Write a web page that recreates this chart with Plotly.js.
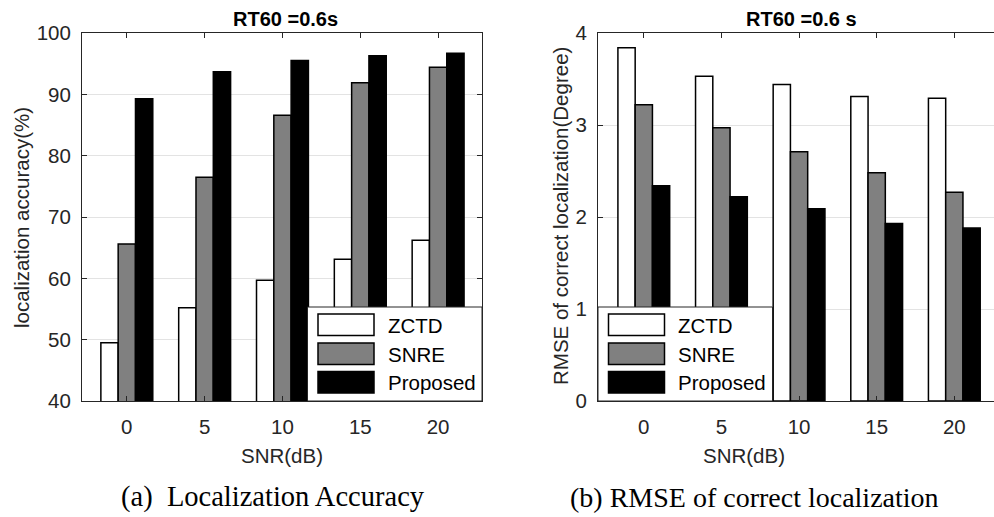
<!DOCTYPE html>
<html>
<head>
<meta charset="utf-8">
<script src="https://cdn.plot.ly/plotly-3.0.1.min.js"></script>
<style>
  html, body { margin: 0; padding: 0; overflow: hidden; background: #ffffff; }
  #chart { width: 1004px; height: 517px; }
</style>
</head>
<body>
<div id="chart"></div>
<script>
// SNR levels (dB) on the horizontal axis
const snr = [0, 5, 10, 15, 20];
const snrTicks = ['0', '5', '10', '15', '20'];

// Methods compared
const seriesNames = ['ZCTD', 'SNRE', 'Proposed'];
const seriesColors = ['#ffffff', '#808080', '#000000'];

// (a) Localization accuracy (%)
const accZCTD = [49.5, 55.2, 59.7, 63.1, 66.2];
const accSNRE = [65.6, 76.5, 86.6, 91.9, 94.4];
const accProposed = [89.3, 93.7, 95.5, 96.3, 96.7];

// (b) RMSE of correct localization (degree)
const rmseZCTD = [3.84, 3.53, 3.44, 3.31, 3.29];
const rmseSNRE = [3.22, 2.97, 2.71, 2.48, 2.27];
const rmseProposed = [2.34, 2.22, 2.09, 1.93, 1.88];

// Figure geometry (pixels)
const W = 1004, H = 517;
const M = { l: 0, r: 0, t: 33, b: 116 };
const plotH = H - M.t - M.b;
const px = v => (v - M.l) / (W - M.l - M.r);      // pixel x -> paper x
const py = v => (H - M.b - v) / plotH;            // pixel y -> paper y

const leftBox = { x0: 82, x1: 482 };
const rightBox = { x0: 598, x1: 1004 };

const SANS = '"Liberation Sans", Arial, Helvetica, sans-serif';
const SERIF = '"Liberation Serif", "Times New Roman", serif';
const AX = '#262626';
const FS = 20.5;

function barTraces(values, xa, ya) {
  return values.map((v, i) => ({
    type: 'bar',
    x: snr,
    y: v,
    name: seriesNames[i],
    xaxis: xa,
    yaxis: ya,
    marker: { color: seriesColors[i], line: { color: '#000000', width: 1.5 } },
    showlegend: false,
    hoverinfo: 'x+y+name'
  }));
}

const traces = [
  ...barTraces([accZCTD, accSNRE, accProposed], 'x', 'y'),
  ...barTraces([rmseZCTD, rmseSNRE, rmseProposed], 'x2', 'y2')
];

function xAxis(domain, range, anchor) {
  return {
    domain: domain, range: range, anchor: anchor,
    tickmode: 'array', tickvals: snr, ticktext: snrTicks,
    ticks: 'inside', ticklen: 5, tickwidth: 1, tickcolor: AX,
    showline: true, linecolor: AX, linewidth: 1, mirror: 'ticks',
    showgrid: false, zeroline: false,
    tickfont: { family: SANS, size: FS, color: AX },
    ticklabelstandoff: 7,
    fixedrange: true
  };
}
function yAxis(range, dtick, anchor) {
  return {
    range: range, dtick: dtick, anchor: anchor,
    ticks: 'inside', ticklen: 5, tickwidth: 1, tickcolor: AX,
    showline: true, linecolor: AX, linewidth: 1, mirror: 'ticks',
    showgrid: true, gridcolor: '#e3e3e3', gridwidth: 1, zeroline: false,
    tickfont: { family: SANS, size: FS, color: AX },
    ticklabelstandoff: 6,
    fixedrange: true
  };
}

// Boxed legend drawn inside the bottom-right / bottom-left corner of each panel
const shapes = [];
const annotations = [];
function addLegend(boxX0, boxX1) {
  const top = 307, bottom = 401;
  shapes.push({ type: 'rect', xref: 'paper', yref: 'paper', layer: 'above',
    x0: px(boxX0), x1: px(boxX1), y0: py(bottom), y1: py(top),
    fillcolor: '#ffffff', line: { color: AX, width: 1 } });
  const rowTop = [314, 343, 371.5];
  seriesNames.forEach((name, i) => {
    const sx0 = boxX0 + 10.5, sx1 = boxX0 + 66.5;
    shapes.push({ type: 'rect', xref: 'paper', yref: 'paper', layer: 'above',
      x0: px(sx0), x1: px(sx1), y0: py(rowTop[i] + 21.5), y1: py(rowTop[i]),
      fillcolor: seriesColors[i], line: { color: '#000000', width: 1.5 } });
    annotations.push({ xref: 'paper', yref: 'paper', x: px(boxX0 + 78), y: py(rowTop[i] + 11),
      xanchor: 'left', yanchor: 'middle', showarrow: false, text: name,
      font: { family: SANS, size: FS, color: '#000000' } });
  });
}
addLegend(307.5, leftBox.x1);
addLegend(rightBox.x0, 772.5);

// Panel titles, axis titles and captions
function note(text, x, y, size, opts) {
  annotations.push(Object.assign({ xref: 'paper', yref: 'paper', x: px(x), y: py(y),
    xanchor: 'center', yanchor: 'middle', showarrow: false, text: text,
    font: { family: SANS, size: size, color: '#000000' } }, opts || {}));
}
note('<b>RT60 =0.6s</b>', 285, 18.5, 20);
note('<b>RT60 =0.6 s</b>', 801, 18.5, 20);
note('SNR(dB)', 282, 455, FS, { font: { family: SANS, size: FS, color: AX } });
note('SNR(dB)', 744, 455, FS, { font: { family: SANS, size: FS, color: AX } });
note('localization accuracy(%)', 21, 218, FS, { textangle: -90, font: { family: SANS, size: FS, color: AX } });
note('RMSE of correct localization(Degree)', 560, 216, FS, { textangle: -90, font: { family: SANS, size: FS, color: AX } });
note('(a)  Localization Accuracy', 273, 497, 28.5, { font: { family: SERIF, size: 28.5, color: '#000000' } });
note('(b) RMSE of correct localization', 754, 497, 28, { font: { family: SERIF, size: 28, color: '#000000' } });

const layout = {
  width: W, height: H,
  margin: M,
  paper_bgcolor: '#ffffff', plot_bgcolor: '#ffffff',
  barmode: 'group', bargap: 0.333, bargroupgap: 0,
  showlegend: false,
  xaxis: xAxis([px(leftBox.x0), px(leftBox.x1)], [-2.88, 22.82], 'y'),
  yaxis: Object.assign(yAxis([40, 100], 10, 'x'), { domain: [0, 1] }),
  xaxis2: xAxis([px(rightBox.x0), px(rightBox.x1)], [-2.95, 23.2], 'y2'),
  yaxis2: Object.assign(yAxis([0, 4], 1, 'x2'), { domain: [0, 1] }),
  shapes: shapes,
  annotations: annotations
};

Plotly.newPlot('chart', traces, layout, { staticPlot: true, displayModeBar: false });
</script>
</body>
</html>
